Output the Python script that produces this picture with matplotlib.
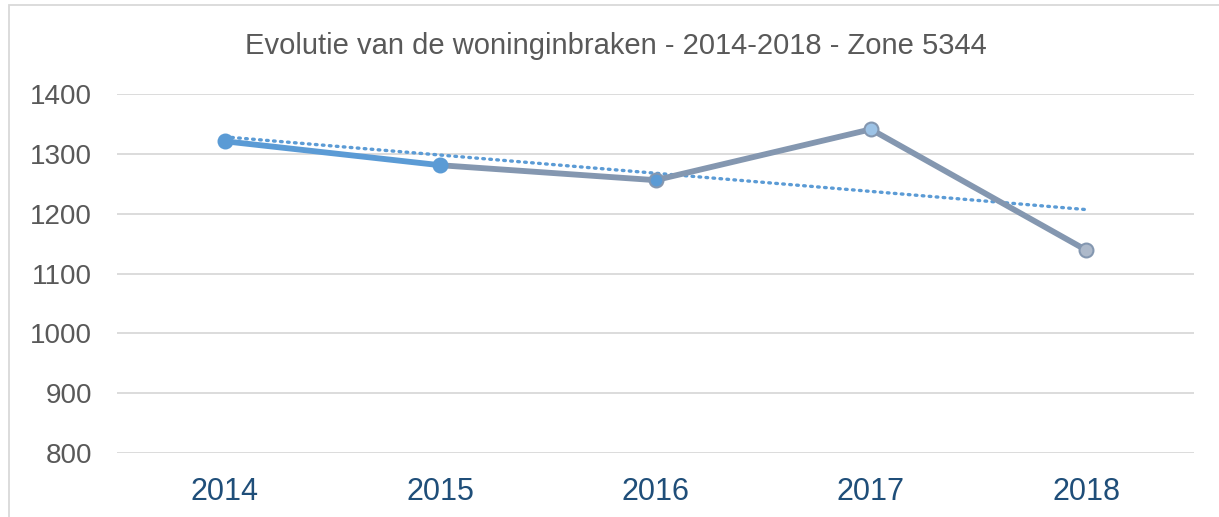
import matplotlib
matplotlib.use("Agg")
import matplotlib.pyplot as plt
import numpy as np
from matplotlib.patches import Rectangle

years = ["2014", "2015", "2016", "2017", "2018"]
values = [1321, 1281, 1256, 1341, 1139]
seg_colors = ["#5B9BD5", "#8497B0", "#8497B0", "#8497B0"]
marker_face = ["#5B9BD5", "#5B9BD5", "#5B9BD5", "#9DC3E6", "#ADB9CA"]
marker_edge = ["#5B9BD5", "#5B9BD5", "#8497B0", "#8497B0", "#8497B0"]
yticks = [800, 900, 1000, 1100, 1200, 1300, 1400]

plt.rcParams['font.family'] = ['Liberation Sans', 'DejaVu Sans']

fig = plt.figure(figsize=(12.19, 5.17), dpi=100)
ax = fig.add_axes([117/1219, 1 - 453/517, (1194 - 117)/1219, (453 - 94)/517])

x = np.arange(len(years))
for i in range(len(years) - 1):
    ax.plot(x[i:i+2], values[i:i+2], color=seg_colors[i], lw=4.2,
            solid_capstyle='round', zorder=3)
for i in range(len(years)):
    ax.plot(x[i], values[i], 'o', ms=10, mfc=marker_face[i], mec=marker_edge[i],
            mew=1.5, zorder=4)

# linear trendline
coef = np.polyfit(x, values, 1)
trend = np.polyval(coef, x)
ax.plot(x, trend, color="#5B9BD5", lw=2.4, linestyle=(0, (0.5, 1.6)),
        dash_capstyle='round', zorder=2)

ax.set_xlim(-0.5, len(years) - 0.5)
ax.set_ylim(800, 1400)
ax.set_yticks(yticks)
ax.set_yticklabels([str(v) for v in yticks])
ax.set_xticks(x)
ax.set_xticklabels(years)
ax.grid(axis='y', color='#D9D9D9', lw=1.3)
ax.set_axisbelow(True)
for s in ax.spines.values():
    s.set_visible(False)
ax.tick_params(axis='y', length=0, pad=18, labelsize=20, labelcolor='#595959')
ax.tick_params(axis='x', length=0, pad=17, labelsize=22, labelcolor='#1F4E79')

fig.text(616/1219, 1 - 46/517, "Evolutie van de woninginbraken - 2014-2018 - Zone 5344",
         ha='center', va='center', fontsize=21, color='#595959')

fig.patches.append(Rectangle((9/1219, -0.1), 1.2, 1 - 5/517 + 0.1,
                             transform=fig.transFigure, fill=False,
                             edgecolor='#D9D9D9', lw=1.3))

fig.savefig("out.png", dpi=100)
